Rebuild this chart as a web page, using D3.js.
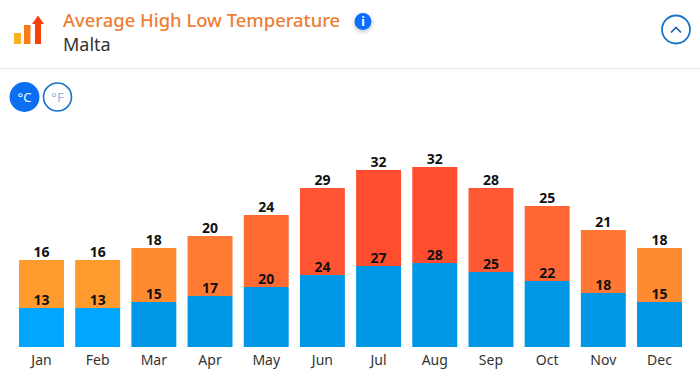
<!DOCTYPE html>
<html>
<head>
<meta charset="utf-8">
<script src="https://cdn.jsdelivr.net/npm/d3@7"></script>
<style>
    body { margin: 0; background: #fff; }
    svg { display: block; font-family: "Noto Sans", sans-serif; }
    .x-axis text { font-size: 14px; fill: #333; font-family: "Noto Sans", sans-serif; }
    .bar-label { font-size: 14px; font-weight: 700; fill: #111; text-anchor: middle; }
</style>
</head>
<body>
<div id="chart"></div>
<script>
var months = ["Jan", "Feb", "Mar", "Apr", "May", "Jun", "Jul", "Aug", "Sep", "Oct", "Nov", "Dec"];
var lows = [13, 13, 15, 17, 20, 24, 27, 28, 25, 22, 18, 15];
var highs = [16, 16, 18, 20, 24, 29, 32, 32, 28, 25, 21, 18];

var width = 700, height = 392;

var svg = d3.select("#chart").append("svg")
    .attr("width", width)
    .attr("height", height);

var defs = svg.append("defs");
var shadow = defs.append("filter").attr("id", "soft-shadow")
    .attr("x", "-50%").attr("y", "-50%").attr("width", "200%").attr("height", "200%");
shadow.append("feDropShadow")
    .attr("dx", 0).attr("dy", 2).attr("stdDeviation", 2)
    .attr("flood-color", "#000").attr("flood-opacity", 0.25);

// Header
var header = svg.append("g").attr("class", "header");

header.append("rect").attr("x", 14).attr("y", 33).attr("width", 7).attr("height", 11).attr("fill", "#fdb022");
header.append("rect").attr("x", 24).attr("y", 25).attr("width", 6.5).attr("height", 19).attr("fill", "#f97a1c");
header.append("path").attr("d", "M35 44V24H32L38 15.5L44 24H41V44Z").attr("fill", "#f5410c");

header.append("text")
    .attr("x", 63).attr("y", 26.5)
    .attr("font-size", 18.4)
    .attr("font-weight", 500)
    .attr("fill", "#ee7d35")
    .text("Average High Low Temperature");

header.append("text")
    .attr("x", 63).attr("y", 51)
    .attr("font-size", 18)
    .attr("fill", "#333")
    .text("Malta");

header.append("circle")
    .attr("cx", 363).attr("cy", 21.5).attr("r", 8.5)
    .attr("fill", "#0d6efd")
    .attr("filter", "url(#soft-shadow)");
header.append("text")
    .attr("x", 363).attr("y", 26)
    .attr("text-anchor", "middle")
    .attr("font-size", 12)
    .attr("font-weight", 700)
    .attr("fill", "#fff")
    .text("i");

header.append("circle")
    .attr("cx", 676).attr("cy", 29.5).attr("r", 14)
    .attr("fill", "#fff")
    .attr("stroke", "#1a73c8")
    .attr("stroke-width", 1.8);
header.append("path")
    .attr("d", "M671 32.5L676 27.5L681 32.5")
    .attr("fill", "none")
    .attr("stroke", "#1a5fb0")
    .attr("stroke-width", 1.6);

header.append("line")
    .attr("x1", 0).attr("x2", width)
    .attr("y1", 68.5).attr("y2", 68.5)
    .attr("stroke", "#e4e4e4");

// Unit toggle
var toggle = svg.append("g").attr("class", "toggle");

toggle.append("circle")
    .attr("cx", 24.5).attr("cy", 97).attr("r", 15)
    .attr("fill", "#0a6ff0");
toggle.append("text")
    .attr("x", 24.5).attr("y", 102)
    .attr("text-anchor", "middle")
    .attr("font-size", 13)
    .attr("fill", "#fff")
    .text("°C");

toggle.append("circle")
    .attr("cx", 57.5).attr("cy", 97).attr("r", 14)
    .attr("fill", "#fff")
    .attr("stroke", "#1a73c8")
    .attr("stroke-width", 1.6);
toggle.append("text")
    .attr("x", 57.5).attr("y", 102)
    .attr("text-anchor", "middle")
    .attr("font-size", 13)
    .attr("fill", "#8fb2df")
    .text("°F");

// Chart
var rows = months.map(function(m, i) {
    return { month: m, low: lows[i], high: highs[i] };
});

var stacked = d3.stack().keys(["low", "high"])(rows);

var x = d3.scaleBand()
    .domain(months)
    .range([19, 682])
    .paddingInner(0.2)
    .paddingOuter(0);

var y = d3.scaleLinear()
    .domain([0, 60])
    .range([347, 167]);

var lowColor = d3.scaleThreshold()
    .domain([14])
    .range(["#00a6ff", "#0098e6"]);

var highColor = d3.scaleLinear()
    .domain([16, 20, 25, 29, 32])
    .range(["#ff9a2e", "#ff7b33", "#ff6633", "#ff5533", "#ff4d2e"]);

function barColor(key, d) {
    return key === "low" ? lowColor(d.data.low) : highColor(d.data.high);
}

var layer = svg.selectAll(".layer")
    .data(stacked)
    .enter().append("g")
    .attr("class", "layer");

layer.selectAll("rect")
    .data(function(s) {
        return s.map(function(d) { d.key = s.key; return d; });
    })
    .enter().append("rect")
    .attr("x", function(d) { return x(d.data.month); })
    .attr("y", function(d) { return y(d[1]); })
    .attr("width", x.bandwidth())
    .attr("height", function(d) { return y(d[0]) - y(d[1]); })
    .attr("fill", function(d) { return barColor(d.key, d); });

// Labels go on top of every bar, the low values sit inside the upper segment
var labels = svg.selectAll(".labels")
    .data(stacked)
    .enter().append("g")
    .attr("class", "labels");

labels.selectAll("text")
    .data(function(s) { return s; })
    .enter().append("text")
    .attr("class", "bar-label")
    .attr("x", function(d) { return x(d.data.month) + x.bandwidth() / 2; })
    .attr("y", function(d) { return y(d[1]) - 3; })
    .text(function(d) { return d.data[d.key]; });

var xAxis = d3.axisBottom(x).tickSize(0).tickPadding(8);

svg.append("g")
    .attr("class", "x-axis")
    .attr("transform", "translate(0,347)")
    .call(xAxis)
    .call(function(g) { g.select(".domain").remove(); });
</script>
</body>
</html>
